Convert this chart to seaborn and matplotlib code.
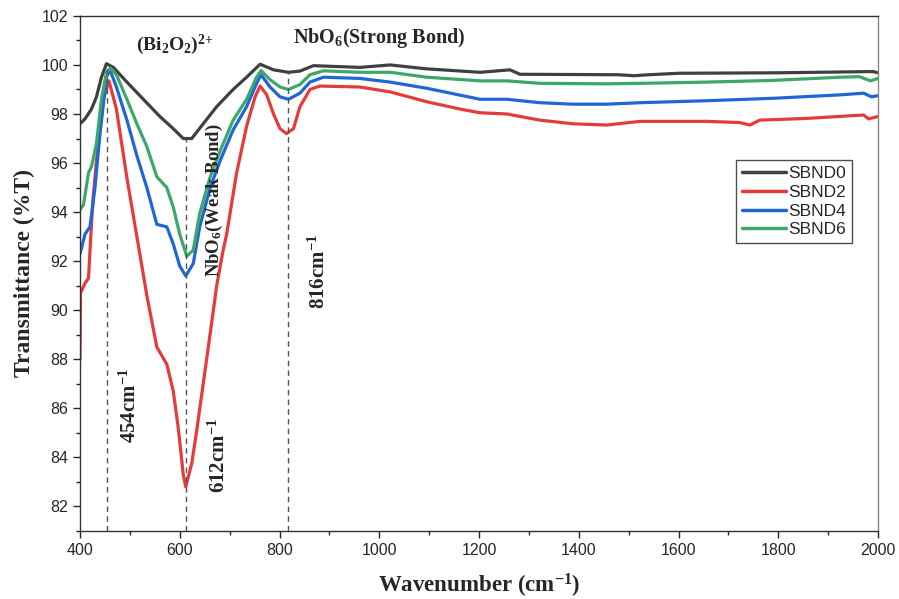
import matplotlib
matplotlib.use('Agg')
import pandas as pd
import matplotlib.pyplot as plt
import seaborn as sns
from matplotlib.ticker import MultipleLocator

# FTIR spectra
wn_0 = [400, 410, 423, 433, 443, 453, 467, 494, 527, 560, 587, 607, 624, 647, 674, 707, 734, 761,
        788, 818, 841, 868, 961, 1022, 1095, 1202, 1262, 1282, 1480, 1510, 1540, 1600, 1800, 1990, 2000]
t_0 = [97.6, 97.8, 98.2, 98.7, 99.5, 100.05, 99.9, 99.3, 98.6, 97.9, 97.4, 97.0, 97.0, 97.6, 98.3, 99.0, 99.5, 100.03,
       99.8, 99.7, 99.75, 99.97, 99.9, 100.0, 99.84, 99.7, 99.8, 99.62, 99.6, 99.56, 99.6, 99.66, 99.68, 99.73, 99.68]

wn_2 = [400, 401, 410, 417, 421, 426, 433, 447, 458, 473, 494, 514, 534, 554, 574, 587, 597, 607, 612,
        624, 634, 647, 661, 674, 687, 694, 714, 734, 751, 761, 774, 788, 801, 814, 828, 841, 861, 881,
        961, 1022, 1095, 1162, 1202, 1256, 1322, 1389, 1456, 1523, 1656, 1723, 1743, 1763, 1857, 1971, 1981, 2000]
t_2 = [88.0, 90.7, 91.1, 91.3, 92.8, 94.5, 96.1, 98.6, 99.35, 98.2, 95.4, 93.0, 90.6, 88.5, 87.8, 86.7, 85.2, 83.3, 82.8,
       83.75, 85.1, 87.0, 89.05, 91.0, 92.45, 93.1, 95.6, 97.5, 98.7, 99.14, 98.8, 98.0, 97.4, 97.2, 97.4, 98.3, 99.0, 99.14,
       99.1, 98.9, 98.5, 98.2, 98.05, 98.0, 97.75, 97.6, 97.55, 97.7, 97.7, 97.65, 97.55, 97.75, 97.82, 97.96, 97.8, 97.9]

wn_4 = [400, 410, 420, 430, 440, 453, 460, 473, 494, 514, 534, 554, 574, 587, 600, 612, 627, 640, 661,
        681, 707, 734, 754, 763, 781, 801, 818, 841, 861, 888, 961, 1022, 1095, 1202, 1256, 1322, 1389,
        1456, 1523, 1656, 1790, 1924, 1971, 1987, 2000]
t_4 = [92.3, 93.1, 93.4, 95.0, 97.2, 99.5, 99.8, 99.1, 97.75, 96.3, 95.0, 93.5, 93.4, 92.7, 91.8, 91.4, 91.9, 93.4, 95.0,
       96.1, 97.35, 98.3, 99.25, 99.6, 99.1, 98.7, 98.6, 98.85, 99.3, 99.5, 99.45, 99.3, 99.05, 98.6, 98.6, 98.46, 98.4,
       98.4, 98.46, 98.54, 98.64, 98.78, 98.85, 98.7, 98.75]

wn_6 = [400, 407, 417, 423, 433, 443, 453, 461, 473, 494, 514, 534, 554, 574, 587, 600, 614, 627, 640,
        661, 681, 707, 734, 754, 763, 781, 801, 818, 841, 861, 888, 961, 1022, 1095, 1202, 1256, 1322,
        1456, 1523, 1656, 1790, 1924, 1963, 1985, 2000]
t_6 = [94.1, 94.3, 95.6, 95.85, 96.8, 98.6, 99.7, 99.87, 99.6, 98.6, 97.6, 96.67, 95.44, 95.0, 94.2, 93.1, 92.2, 92.45, 93.95,
       95.44, 96.5, 97.75, 98.6, 99.5, 99.77, 99.4, 99.1, 99.0, 99.2, 99.6, 99.76, 99.7, 99.7, 99.5, 99.35, 99.35, 99.25,
       99.23, 99.25, 99.3, 99.37, 99.5, 99.52, 99.35, 99.45]

samples = ['SBND0', 'SBND2', 'SBND4', 'SBND6']
colors = ['#404040', '#e53b3b', '#1f66d6', '#3ba86a']

# band positions (dashed markers) and where the dashes stop
peaks = [454, 612, 816]
peak_tops = [100.0, 97.0, 99.7]

frames = []
for name, x, y in zip(samples, [wn_0, wn_2, wn_4, wn_6], [t_0, t_2, t_4, t_6]):
    frames.append(pd.DataFrame({'Wavenumber': x, 'T': y, 'Sample': name}))
df = pd.concat(frames, ignore_index=True)

sns.set_style('ticks')
plt.rcParams['font.family'] = ['Liberation Sans', 'DejaVu Sans']
plt.rcParams['mathtext.default'] = 'regular'

fig = plt.figure(figsize=(8.99, 5.99), dpi=100)
ax = fig.add_axes([0.089, 0.1135, 0.8877, 0.86])

sns.lineplot(data=df, x='Wavenumber', y='T', hue='Sample', palette=dict(zip(samples, colors)),
             estimator=None, sort=False, linewidth=2.3, ax=ax)

ax.vlines(peaks, 81, peak_tops, colors='#555555', linestyles=(0, (4, 3)), linewidth=1.0)

ax.set_xlim(400, 2000)
ax.set_ylim(81, 102)
ax.xaxis.set_major_locator(MultipleLocator(200))
ax.xaxis.set_minor_locator(MultipleLocator(100))
ax.yaxis.set_minor_locator(MultipleLocator(1))
ax.set_yticks(range(82, 103, 2))
ax.tick_params(which='major', direction='out', length=5, width=1, labelsize=11.5)
ax.tick_params(which='minor', direction='out', length=3, width=1)
for s in ax.spines.values():
    s.set_linewidth(1.0)
    s.set_color('#333333')
ax.spines['right'].set_color('#888888')

serif = dict(family='Liberation Serif', fontweight='bold')
ax.set_xlabel('Wavenumber (cm$^{-1}$)', fontsize=16.5, labelpad=10, **serif)
ax.set_ylabel('Transmittance (%T)', fontsize=17, labelpad=5, **serif)

ax.text(590, 100.8, '(Bi$_2$O$_2$)$^{2{+}}$', fontsize=14, ha='center', va='center', **serif)
ax.text(827, 101.1, 'NbO$_6$(Strong Bond)', fontsize=14.5, ha='left', va='center', **serif)
ax.text(670, 94.5, 'NbO$_6$(Weak Bond)', fontsize=13.5, rotation=90, ha='center', va='center', **serif)
ax.text(880, 91.6, '816cm$^{-1}$', fontsize=15, rotation=90, ha='center', va='center', **serif)
ax.text(500, 86.1, '454cm$^{-1}$', fontsize=15, rotation=90, ha='center', va='center', **serif)
ax.text(680, 84.1, '612cm$^{-1}$', fontsize=15, rotation=90, ha='center', va='center', **serif)

leg = ax.legend(loc='upper left', bbox_to_anchor=(0.8225, 0.72), fontsize=12.5, frameon=True, fancybox=False,
                handlelength=2.5, handletextpad=0.15, borderpad=0.35, labelspacing=0.2, borderaxespad=0)
leg.get_frame().set_edgecolor('#222222')
leg.get_frame().set_linewidth(1.0)
for line in leg.get_lines():
    line.set_linewidth(2.5)

fig.savefig('out.png', dpi=100)
